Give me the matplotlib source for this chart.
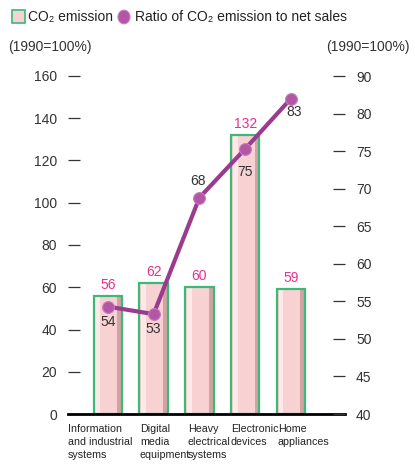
import matplotlib

matplotlib.use("Agg")
import matplotlib.pyplot as plt
from matplotlib.patches import Rectangle, Circle

plt.rcParams["font.family"] = ["Liberation Sans", "DejaVu Sans"]

categories = [
    "Information\nand industrial\nsystems",
    "Digital\nmedia\nequipment",
    "Heavy\nelectrical\nsystems",
    "Electronic\ndevices",
    "Home\nappliances",
]
co2_emission = [56, 62, 60, 132, 59]
ratio_to_sales = [54.3, 53.3, 68.8, 75.3, 82.0]
ratio_labels = ["54", "53", "68", "75", "83"]
left_ticks = [0, 20, 40, 60, 80, 100, 120, 140, 160]
right_ticks = [40, 45, 50, 55, 60, 65, 70, 75, 80, 85]
right_tick_labels = ["40", "45", "50", "55", "60", "65", "70", "75", "80", "90"]

bar_fill = "#f8d2d2"
bar_light = "#fde9e9"
bar_dark = "#d3a2a2"
bar_edge = "#3cb878"
line_color = "#9b3b8e"
marker_color = "#b256a5"
pink_text = "#e8308a"
text_color = "#333333"

fig = plt.figure(figsize=(4.15, 4.72), dpi=100)
ax = fig.add_axes([68 / 415, 58 / 472, 277 / 415, 338 / 472])
ax2 = ax.twinx()

x = list(range(len(categories)))
width = 0.62
ax.bar(x, co2_emission, width=width, color=bar_fill, zorder=2)
strip = width * 0.17
ax.bar([i - width / 2 + strip / 2 + 0.04 for i in x], co2_emission, width=strip,
       color=bar_light, zorder=2.1)
ax.bar([i + width / 2 - strip / 2 for i in x], co2_emission, width=strip,
       color=bar_dark, zorder=2.1)
ax.bar(x, co2_emission, width=width, facecolor="none", edgecolor=bar_edge,
       linewidth=1.6, zorder=2.2)

for i, v in zip(x, co2_emission):
    ax.annotate(str(v), (i, v), xytext=(0, 3), textcoords="offset points",
                ha="center", va="bottom", color=pink_text, fontsize=10)

ax.set_xlim(-0.87, 5.18)
ax.set_ylim(0, 160)
ax.set_yticks(left_ticks)
ax.set_xticks([])
for side in ["left", "right", "top"]:
    ax.spines[side].set_visible(False)
ax.spines["bottom"].set_linewidth(2.0)
ax.spines["bottom"].set_color("black")
ax.tick_params(axis="y", direction="in", length=8.5, width=0.9, color=text_color,
               labelsize=10, labelcolor=text_color, pad=8)

ax2.set_ylim(40, 85)
ax2.set_yticks(right_ticks)
ax2.set_yticklabels(right_tick_labels)
for side in ["left", "right", "top", "bottom"]:
    ax2.spines[side].set_visible(False)
ax2.tick_params(axis="y", direction="in", length=8.5, width=0.9, color=text_color,
                labelsize=10, labelcolor=text_color, pad=8)

ax2.plot(x, ratio_to_sales, color=line_color, linewidth=3, zorder=3)
ax2.plot(x, ratio_to_sales, "o", markersize=8.5, markerfacecolor=marker_color,
         markeredgecolor="#c77bbb", markeredgewidth=0.8, zorder=4)

label_offsets = [(0, -11), (0, -11), (-1, 12), (0, -17), (2, -10)]
for i, v, lab, off in zip(x, ratio_to_sales, ratio_labels, label_offsets):
    ax2.annotate(lab, (i, v), xytext=off, textcoords="offset points",
                 ha="center", va="center", color=text_color, fontsize=10)

# category labels under the bars
label_x = [-0.87, 0.70, 1.75, 2.69, 3.71]
for lx, name in zip(label_x, categories):
    ax.text(lx, -4.5, name, ha="left", va="top", fontsize=7.7, color="#222222",
            linespacing=1.42)

# legend
fig.patches.append(Rectangle((12 / 415, 1 - 23 / 472), 13 / 415, 13 / 472,
                             transform=fig.transFigure, facecolor=bar_fill,
                             edgecolor=bar_edge, linewidth=1.2))
fig.text(28 / 415, 1 - 17 / 472, "CO₂ emission", ha="left", va="center",
         fontsize=10, color="#222222")
fig.patches.append(Circle((124 / 415, 1 - 17 / 472), 6 / 415,
                          transform=fig.transFigure, facecolor=marker_color,
                          edgecolor="#c77bbb", linewidth=0.8))
fig.text(135 / 415, 1 - 17 / 472, "Ratio of CO₂ emission to net sales", ha="left",
         va="center", fontsize=10, color="#222222")

fig.text(8 / 415, 1 - 47 / 472, "(1990=100%)", ha="left", va="center",
         fontsize=10, color=text_color)
fig.text(410 / 415, 1 - 47 / 472, "(1990=100%)", ha="right", va="center",
         fontsize=10, color=text_color)

fig.savefig("out.png", dpi=100)
